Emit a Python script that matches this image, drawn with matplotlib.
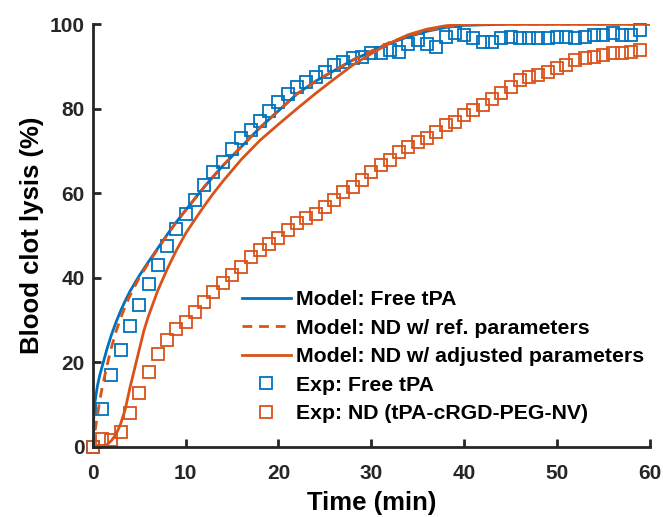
"""
Blood clot lysis: model vs experiment
"""
import numpy as np
import matplotlib
matplotlib.use("Agg")
import matplotlib.pyplot as plt

BLUE = "#0072BD"
ORANGE = "#D95319"

# experimental points, one per minute
t_exp = list(range(0, 60))
exp_free = [0, 9, 17, 23, 28.5, 33.5, 38.5, 43, 47.5, 51.5,
            55, 58.5, 62, 65, 67.5, 70.5, 73, 75, 77, 79.5,
            81.5, 83.5, 85.2, 86.4, 87.5, 88.7, 90.3, 91.1, 91.9, 92.3,
            93.1, 93.1, 93.9, 93.5, 95.4, 96.2, 95.4, 94.6, 97, 97.8,
            97.4, 96.6, 95.8, 95.8, 96.6, 97, 96.6, 96.6, 96.6, 96.6,
            97, 97, 96.6, 97, 97.4, 97.4, 97.8, 97.4, 97.4, 98.6]
exp_nd = [0, 2, 1.6, 3.6, 8.1, 12.8, 17.8, 22, 25.3, 28,
          29.6, 32, 34.4, 36.7, 38.7, 40.7, 42.6, 45, 46.5, 48,
          49.5, 51.3, 52.9, 54.1, 55.2, 56.8, 58.4, 60.4, 61.5, 63.1,
          65.1, 66.7, 67.8, 69.8, 71, 72.2, 73, 74.5, 76.1, 76.9,
          78.5, 79.8, 80.9, 82.4, 83.6, 85.2, 86.8, 87.5, 87.9, 88.7,
          89.5, 90.3, 91.5, 91.9, 92.3, 92.7, 93.1, 93.1, 93.5, 93.9]

# model curves
t_free = [0, 0.1, 0.25, 0.5, 0.75, 1, 1.5, 2, 2.5, 3, 3.5, 4, 5, 6, 7, 8, 9, 10,
          12, 14, 16, 18, 20, 22, 24, 26, 28, 30, 32, 34, 36, 38, 40, 45, 50, 55, 60]
model_free = [0, 7, 11, 14.5, 17, 19, 23, 26.5, 29.5, 32.2, 34.6, 36.8, 40.5, 43.8, 47, 50.2, 53.2, 56,
              61.5, 66.5, 71, 75.5, 79.5, 83.5, 86.5, 89, 91.5, 93.5, 95.5, 97, 98.3, 99.2, 99.7,
              100, 100, 100, 100]
t_ref = [0, 0.25, 0.5, 0.75, 1, 1.5, 2, 2.5, 3, 3.5, 4, 5, 6, 7, 8, 9, 10,
         12, 14, 16, 18, 20, 22, 24, 26, 28, 30, 32, 34, 36, 38, 40, 45, 50, 55, 60]
model_ref = [0, 4, 7.5, 11, 14, 19, 23.5, 27.3, 30.5, 33.3, 35.8, 40, 43.5, 46.8, 50.1, 53.2, 56,
             61.5, 66.5, 71, 75.5, 79.5, 83.5, 86.5, 89, 91.5, 93.6, 95.7, 97.2, 98.5, 99.3, 99.8,
             100, 100, 100, 100]
t_adj = [0, 1, 1.5, 2, 2.5, 3, 3.5, 4, 4.5, 5, 5.5, 6, 7, 8, 9, 10, 11, 12, 13,
         14, 16, 18, 20, 22, 24, 26, 28, 30, 32, 34, 36, 38, 40, 45, 50, 60]
model_adj = [0, 0, 0.5, 1.5, 3, 5.5, 9, 14, 18.5, 23, 27.5, 31, 37, 42, 46.5, 50.5, 53.8, 57, 60,
             62.8, 68, 72.5, 76.3, 80, 83.6, 87, 90.3, 93, 95.5, 97.5, 98.8, 99.6, 100, 100, 100, 100]

plt.rcParams["font.family"] = ["Liberation Sans", "DejaVu Sans"]
plt.rcParams["font.weight"] = "bold"

fig = plt.figure(figsize=(6.63, 5.17), dpi=100)
ax = fig.add_axes([0.140, 0.1354, 0.840, 0.818])

ms = 9
mew = 1.3
h4, = ax.plot(t_exp, exp_free, "s", mfc="none", mec=BLUE, ms=ms, mew=mew, clip_on=False)
h5, = ax.plot(t_exp, exp_nd, "s", mfc="none", mec=ORANGE, ms=ms, mew=mew, clip_on=False)
h1, = ax.plot(t_free, model_free, "-", color=BLUE, lw=2)
h2, = ax.plot(t_ref, model_ref, "--", color=ORANGE, lw=2, dashes=(3.5, 2.5))
h3, = ax.plot(t_adj, model_adj, "-", color=ORANGE, lw=2)

ax.set_xlim(0, 60)
ax.set_ylim(0, 100)
ax.set_xticks([0, 10, 20, 30, 40, 50, 60])
ax.set_yticks([0, 20, 40, 60, 80, 100])
ax.spines["top"].set_visible(False)
ax.spines["right"].set_visible(False)
for s in ["left", "bottom"]:
    ax.spines[s].set_linewidth(2)
    ax.spines[s].set_color("#262626")
ax.tick_params(direction="in", length=6, width=2, colors="#262626", labelsize=15)
ax.tick_params(axis="x", pad=12)
ax.tick_params(axis="y", pad=6)
for lab in ax.get_xticklabels() + ax.get_yticklabels():
    lab.set_fontweight("bold")
    lab.set_color("#262626")

ax.set_xlabel("Time (min)", fontsize=18.5, fontweight="bold", labelpad=6)
ax.set_ylabel("Blood clot lysis (%)", fontsize=18.5, fontweight="bold", labelpad=4)

leg = ax.legend([h1, h2, h3, h4, h5],
                ["Model: Free tPA", "Model: ND w/ ref. parameters",
                 "Model: ND w/ adjusted parameters", "Exp: Free tPA",
                 "Exp: ND (tPA-cRGD-PEG-NV)"],
                loc="upper left", bbox_to_anchor=(242 / 663, 1 - 290 / 517),
                bbox_transform=fig.transFigure, frameon=False,
                handlelength=2.3, handletextpad=0.25, labelspacing=0.45,
                borderaxespad=0, borderpad=0, prop={"weight": "bold", "size": 15.3})

fig.savefig("out.png", dpi=100)
